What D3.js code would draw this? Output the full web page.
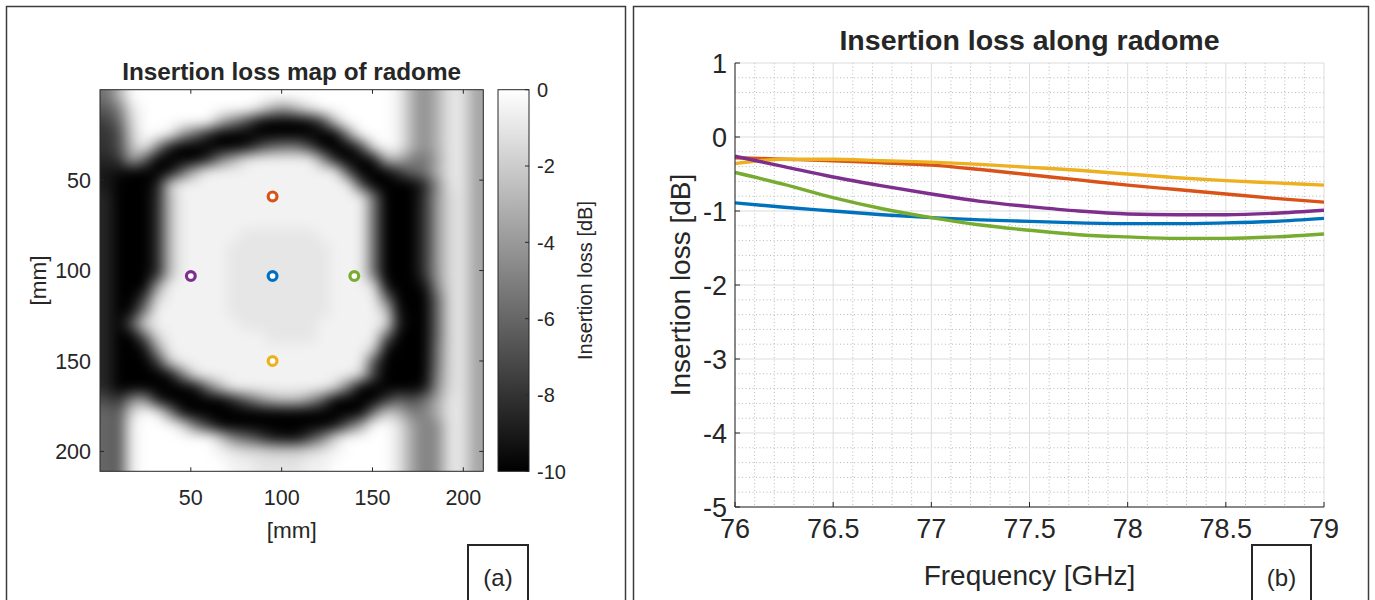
<!DOCTYPE html>
<html><head><meta charset="utf-8">
<script src="https://cdn.jsdelivr.net/npm/d3@7"></script>
<style>
body{margin:0;background:#fff;}
svg{display:block;}
text{font-family:"Liberation Sans",Arial,sans-serif;fill:#262626;}
</style></head><body>
<svg id="chart" width="1375" height="600"></svg>
<script>
// ================= DATA =================
// (a) insertion loss map: 30 x 30 cells of 7 mm, one char per cell,
// char index in mapLevels times -0.5 dB ("0" = 0 dB ... "K" = -10 dB)
const mapLevels = "0123456789ABCDEFGHIJK";
const mapStepDb = -0.5;
const mapCellMm = 7;
const mapRows = [
  "B60000000000000000000001696227",
  "DA2000000000268520000001696227",
  "FC30000006AEJKKKJF400001696227",
  "GE40018CHKKKKKKKKKK90001696227",
  "GE519IKKKKKJFCBBFKKKF201696227",
  "HG7CKKKKHA62111118IKKJ66AB7227",
  "IJKKKJC511111111111EKKKGCB6227",
  "IKKKI411111111111111EKKKKH9227",
  "HKKKH5111111111111111BKKKG8327",
  "HKKKH5111111111111111BKKKG8327",
  "HKKKH5111111111111111BKKKG8327",
  "HKKKH5111112222221111BKKKG8327",
  "HKKKH5111122222222111BKKKG8327",
  "HKKKH5111122222222111BKKKG8327",
  "HKKKH5111122222222111BKKKG8327",
  "HKKK811111222222221112JKKJ9327",
  "HKKF311111222222221111BKKKC327",
  "HKJA1111112222222211114JKKC327",
  "HKD31111111222222111112IKKC327",
  "HKKD311111111222211111CKKKC327",
  "HKKJ811111111111111113JKKKB327",
  "HKKKG4111111111111111EKKKKB327",
  "HKKKKJA21111111111113FKKKKA327",
  "HKKKKKKJB5111111113BKKKKKJ9327",
  "EG98IKKKKKHD96558DKKKKGCEB7227",
  "CD301AJKKKKKKKKKKKKKKB46AA6227",
  "CD10003BGKKKKKKKKKJD70027A9227",
  "CD10000004ACFIJJFA3000027A9227",
  "CD10000001233444321000027A9227",
  "CD10000000112222110000027A9227"
];
const mapTicks = [50, 100, 150, 200];
const colorbarTicks = [0, -2, -4, -6, -8, -10];
// measurement points on the map (mm)
const pointX = [95, 95, 95, 50, 140];
const pointY = [103, 59, 150, 103, 103];
const pointColors = ["#0072BD", "#D95319", "#EDB120", "#7E2F8E", "#77AC30"];

// (b) insertion loss vs frequency, one series per point
const freqGHz    = [76, 76.25, 76.5, 76.75, 77, 77.25, 77.5, 77.75, 78, 78.25, 78.5, 78.75, 79];
const lossCenter = [-0.89, -0.95, -1.00, -1.05, -1.09, -1.12, -1.14, -1.16, -1.17, -1.17, -1.16, -1.14, -1.10];
const lossTop    = [-0.28, -0.30, -0.32, -0.35, -0.38, -0.44, -0.51, -0.58, -0.65, -0.71, -0.77, -0.83, -0.88];
const lossBottom = [-0.36, -0.30, -0.30, -0.32, -0.34, -0.37, -0.41, -0.45, -0.50, -0.55, -0.59, -0.62, -0.65];
const lossLeft   = [-0.26, -0.40, -0.54, -0.66, -0.77, -0.87, -0.94, -1.00, -1.04, -1.05, -1.05, -1.03, -0.99];
const lossRight  = [-0.48, -0.64, -0.82, -0.97, -1.09, -1.19, -1.26, -1.32, -1.35, -1.37, -1.37, -1.35, -1.31];
const freqTicks = [76, 76.5, 77, 77.5, 78, 78.5, 79];
const lossTicks = [1, 0, -1, -2, -3, -4, -5];

// ================= DRAW =================
const svg = d3.select("#chart");
const ink = "#262626";

// panel frames
svg.append("rect").attr("x", 6.5).attr("y", 6.5).attr("width", 619).attr("height", 620)
  .attr("fill", "none").attr("stroke", "#3c3c3c").attr("stroke-width", 1.5);
svg.append("rect").attr("x", 633.5).attr("y", 6.5).attr("width", 735).attr("height", 620)
  .attr("fill", "none").attr("stroke", "#3c3c3c").attr("stroke-width", 1.5);

// ---------- (a) heatmap ----------
const hx = d3.scaleLinear().domain([0, 211]).range([100, 483.3]);
const hy = d3.scaleLinear().domain([0, 211]).range([89.7, 471.3]);
const grayLevel = d3.scaleLinear().domain([-10, 0]).range([0, 255]).clamp(true);

const nCols = 30;
const grid = mapRows.map(r => {
  const s = r.padEnd(nCols, r[r.length - 1]).slice(0, nCols);
  return Array.from(s, c => Math.max(0, mapLevels.indexOf(c)) * mapStepDb);
});
const nRows = grid.length;

// cubic B-spline weights for smooth resampling of the cell grid
function bw(t) {
  const t2 = t * t, t3 = t2 * t;
  return [(1 - t) * (1 - t) * (1 - t) / 6, (3 * t3 - 6 * t2 + 4) / 6, (-3 * t3 + 3 * t2 + 3 * t + 1) / 6, t3 / 6];
}
const cl = (v, n) => Math.max(0, Math.min(n - 1, v));

const W = Math.round(hx.range()[1] - hx.range()[0]);
const H = Math.round(hy.range()[1] - hy.range()[0]);
const canvas = document.createElement("canvas");
canvas.width = W; canvas.height = H;
const ctx = canvas.getContext("2d");
const img = ctx.createImageData(W, H);
const colInfo = [];
for (let i = 0; i < W; i++) {
  const mx = hx.invert(hx.range()[0] + (i + 0.5) * (hx.range()[1] - hx.range()[0]) / W);
  const gx = mx / mapCellMm - 0.5;
  const x0 = Math.floor(gx);
  colInfo.push({ x0, w: bw(gx - x0) });
}
for (let j = 0; j < H; j++) {
  const my = hy.invert(hy.range()[0] + (j + 0.5) * (hy.range()[1] - hy.range()[0]) / H);
  const gy = my / mapCellMm - 0.5;
  const y0 = Math.floor(gy), wy = bw(gy - y0);
  for (let i = 0; i < W; i++) {
    const { x0, w: wx } = colInfo[i];
    let v = 0;
    for (let a = 0; a < 4; a++) {
      const row = grid[cl(y0 - 1 + a, nRows)];
      let s = 0;
      for (let b = 0; b < 4; b++) s += wx[b] * row[cl(x0 - 1 + b, nCols)];
      v += wy[a] * s;
    }
    const g = Math.round(grayLevel(v));
    const k = (j * W + i) * 4;
    img.data[k] = g; img.data[k + 1] = g; img.data[k + 2] = g; img.data[k + 3] = 255;
  }
}
ctx.putImageData(img, 0, 0);
svg.append("image")
  .attr("x", hx.range()[0]).attr("y", hy.range()[0])
  .attr("width", hx.range()[1] - hx.range()[0]).attr("height", hy.range()[1] - hy.range()[0])
  .attr("preserveAspectRatio", "none")
  .attr("href", canvas.toDataURL());

// markers
const gm = svg.append("g");
pointX.forEach((px, i) => {
  gm.append("circle").attr("cx", hx(px)).attr("cy", hy(pointY[i])).attr("r", 4.4)
    .attr("fill", "#fff").attr("stroke", pointColors[i]).attr("stroke-width", 3.2);
});

// heatmap box + ticks
const hb = svg.append("g").attr("stroke", ink).attr("stroke-width", 1).attr("fill", "none");
hb.append("rect").attr("x", hx(0)).attr("y", hy(0)).attr("width", hx(211) - hx(0)).attr("height", hy(211) - hy(0));
mapTicks.forEach(t => {
  hb.append("line").attr("x1", hx(t)).attr("x2", hx(t)).attr("y1", hy(211)).attr("y2", hy(211) - 4);
  hb.append("line").attr("x1", hx(t)).attr("x2", hx(t)).attr("y1", hy(0)).attr("y2", hy(0) + 4);
  hb.append("line").attr("y1", hy(t)).attr("y2", hy(t)).attr("x1", hx(0)).attr("x2", hx(0) + 4);
  hb.append("line").attr("y1", hy(t)).attr("y2", hy(t)).attr("x1", hx(211)).attr("x2", hx(211) - 4);
});
const fsA = 21.5;
svg.append("g").selectAll("text").data(mapTicks).join("text")
  .attr("x", d => hx(d)).attr("y", 505).attr("text-anchor", "middle")
  .attr("font-size", fsA).text(d => d);
svg.append("g").selectAll("text").data(mapTicks).join("text")
  .attr("x", 91).attr("y", d => hy(d) + 0.36 * fsA).attr("text-anchor", "end")
  .attr("font-size", fsA).text(d => d);
svg.append("text").attr("x", hx(105.5)).attr("y", 538).attr("text-anchor", "middle")
  .attr("font-size", 22.5).text("[mm]");
svg.append("text").attr("transform", `translate(46,${hy(105.5)}) rotate(-90)`)
  .attr("text-anchor", "middle").attr("font-size", 22.5).text("[mm]");
svg.append("text").attr("x", hx(105.5)).attr("y", 80).attr("text-anchor", "middle")
  .attr("font-size", 24.3).attr("font-weight", "bold").text("Insertion loss map of radome");

// colorbar
const cb = d3.scaleLinear().domain([0, -10]).range([hy(0), hy(211)]);
const defs = svg.append("defs");
const lg = defs.append("linearGradient").attr("id", "cbg").attr("x1", 0).attr("x2", 0).attr("y1", 0).attr("y2", 1);
colorbarTicks.forEach(v => {
  const g = Math.round(grayLevel(v));
  lg.append("stop").attr("offset", (cb(v) - cb(0)) / (cb(-10) - cb(0))).attr("stop-color", `rgb(${g},${g},${g})`);
});
const cbx0 = 498, cbx1 = 529;
svg.append("rect").attr("x", cbx0).attr("y", cb(0)).attr("width", cbx1 - cbx0).attr("height", cb(-10) - cb(0))
  .attr("fill", "url(#cbg)").attr("stroke", ink).attr("stroke-width", 1);
svg.append("g").selectAll("line").data(colorbarTicks).join("line")
  .attr("x1", cbx1).attr("x2", cbx1 - 4).attr("y1", d => cb(d)).attr("y2", d => cb(d))
  .attr("stroke", ink);
svg.append("g").selectAll("text").data(colorbarTicks).join("text")
  .attr("x", 537).attr("y", d => cb(d) + 0.36 * 20).attr("font-size", 20).text(d => d);
svg.append("text").attr("transform", `translate(592,${(cb(0) + cb(-10)) / 2}) rotate(-90)`)
  .attr("text-anchor", "middle").attr("font-size", 20).text("Insertion loss [dB]");

// ---------- (b) line chart ----------
const fx = d3.scaleLinear().domain([76, 79]).range([735, 1324]);
const fy = d3.scaleLinear().domain([-5, 1]).range([507, 63]);
const gg = svg.append("g");
// minor grid
fx.ticks(30).filter(t => !freqTicks.some(m => Math.abs(m - t) < 1e-6)).forEach(t => {
  gg.append("line").attr("x1", fx(t)).attr("x2", fx(t)).attr("y1", fy(1)).attr("y2", fy(-5))
    .attr("stroke", "#b8b8b8").attr("stroke-dasharray", "1,2.5").attr("stroke-width", 1);
});
fy.ticks(30).filter(t => !lossTicks.some(m => Math.abs(m - t) < 1e-6)).forEach(t => {
  gg.append("line").attr("y1", fy(t)).attr("y2", fy(t)).attr("x1", fx(76)).attr("x2", fx(79))
    .attr("stroke", "#b8b8b8").attr("stroke-dasharray", "1,2.5").attr("stroke-width", 1);
});
// major grid
freqTicks.forEach(t => gg.append("line").attr("x1", fx(t)).attr("x2", fx(t)).attr("y1", fy(1)).attr("y2", fy(-5))
  .attr("stroke", "#dcdcdc").attr("stroke-width", 1));
lossTicks.forEach(t => gg.append("line").attr("y1", fy(t)).attr("y2", fy(t)).attr("x1", fx(76)).attr("x2", fx(79))
  .attr("stroke", "#dcdcdc").attr("stroke-width", 1));

// lines
defs.append("clipPath").attr("id", "clipb").append("rect")
  .attr("x", fx(76)).attr("y", fy(1)).attr("width", fx(79) - fx(76)).attr("height", fy(-5) - fy(1));
const seriesList = [lossCenter, lossTop, lossBottom, lossLeft, lossRight];
const line = d3.line().x((d, i) => fx(freqGHz[i])).y(d => fy(d)).curve(d3.curveMonotoneX);
const gl = svg.append("g").attr("clip-path", "url(#clipb)");
seriesList.forEach((s, i) => {
  gl.append("path").attr("d", line(s)).attr("fill", "none")
    .attr("stroke", pointColors[i]).attr("stroke-width", 3.4);
});

// axes
svg.append("line").attr("x1", fx(76)).attr("x2", fx(76)).attr("y1", fy(1)).attr("y2", fy(-5)).attr("stroke", ink);
svg.append("line").attr("x1", fx(76)).attr("x2", fx(79)).attr("y1", fy(-5)).attr("y2", fy(-5)).attr("stroke", ink);
lossTicks.forEach(t => svg.append("line").attr("x1", fx(76)).attr("x2", fx(76) + 5).attr("y1", fy(t)).attr("y2", fy(t)).attr("stroke", ink));
freqTicks.forEach(t => svg.append("line").attr("x1", fx(t)).attr("x2", fx(t)).attr("y1", fy(-5)).attr("y2", fy(-5) - 5).attr("stroke", ink));
const fsB = 27;
svg.append("g").selectAll("text").data(lossTicks).join("text")
  .attr("x", 727).attr("y", d => fy(d) + 0.36 * fsB).attr("text-anchor", "end")
  .attr("font-size", fsB).text(d => d);
svg.append("g").selectAll("text").data(freqTicks).join("text")
  .attr("x", d => fx(d)).attr("y", 538).attr("text-anchor", "middle")
  .attr("font-size", fsB).text(d => d);
svg.append("text").attr("x", (fx(76) + fx(79)) / 2).attr("y", 585).attr("text-anchor", "middle")
  .attr("font-size", 28).text("Frequency [GHz]");
svg.append("text").attr("transform", `translate(690,${(fy(1) + fy(-5)) / 2}) rotate(-90)`)
  .attr("text-anchor", "middle").attr("font-size", 28).text("Insertion loss [dB]");
svg.append("text").attr("x", (fx(76) + fx(79)) / 2).attr("y", 50).attr("text-anchor", "middle")
  .attr("font-size", 28.5).attr("font-weight", "bold").text("Insertion loss along radome");

// (a) / (b) boxes
[[468, 528, "(a)"], [1252, 1311, "(b)"]].forEach(([x0, x1, lab]) => {
  svg.append("rect").attr("x", x0).attr("y", 545).attr("width", x1 - x0).attr("height", 70)
    .attr("fill", "#fff").attr("stroke", ink).attr("stroke-width", 2);
  svg.append("text").attr("x", (x0 + x1) / 2).attr("y", 586).attr("text-anchor", "middle")
    .attr("font-family", "'Open Sans', sans-serif").attr("font-size", 24).text(lab);
});
</script>
</body></html>
